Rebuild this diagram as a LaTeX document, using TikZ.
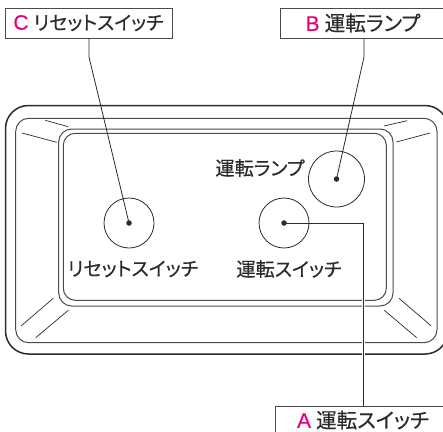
\documentclass[tikz,border=0pt]{standalone}
\usepackage{fontspec}
\setmainfont{Liberation Sans}
\newfontfamily\jpf[RawFeature={+palt},FakeBold=0.35]{Noto Sans CJK JP}
\newfontfamily\ltr[FakeBold=0.4]{Liberation Sans}
\definecolor{ink}{HTML}{2B2B2B}
\definecolor{mag}{HTML}{E6007E}
\newcommand{\keyl}[1]{{\ltr\fontsize{21}{21}\selectfont\color{mag}#1}}
\tikzset{
  x=1pt,y=-1pt,
  panelA/.style={draw=ink,line width=1.5pt,rounded corners=23pt},
  panelB/.style={draw=ink!85,line width=1pt,rounded corners=13pt},
  thin line/.style={draw=ink,line width=0.7pt},
  leader/.style={draw=ink,line width=0.8pt},
  halo/.style={draw=white,line width=3pt},
  dial/.style={circle,draw=ink,line width=0.8pt,minimum size=50pt,inner sep=0pt},
  pin/.style={circle,fill=ink,minimum size=5.5pt,inner sep=0pt},
  callout/.style={draw=ink!85,line width=1pt,fill=white,inner sep=0pt,text=ink,font=\jpf\fontsize{19.1}{19.1}\selectfont,anchor=center},
  calltext/.style={inner sep=0pt,text=ink,font=\jpf\fontsize{20.6}{20.6}\selectfont,anchor=center},
  frameline/.style={draw=ink!85,line width=1pt},
  caption/.style={inner sep=0pt,text=ink,font=\jpf\fontsize{19.2}{19.2}\selectfont,anchor=center}
}
\begin{document}
\begin{tikzpicture}
\useasboundingbox (0,0) rectangle (443,431);
\fill[white] (0,0) rectangle (443,431);
% panel
\draw[panelA] (5.5,105.5) rectangle (448,354);
\draw[panelB] (15.7,118.3) rectangle (437,342.7);
\draw[panelB] (58.7,129) rectangle (393,306);
\draw[panelB,rounded corners=12pt] (63.3,133.3) rectangle (386.3,300.3);
% corner lines
\draw[thin line] (45.3,120.3) -- (68.3,126.7);
\draw[thin line] (22,133) -- (56.7,142.3);
\draw[thin line] (384,126) -- (407,120.7);
\draw[thin line] (396.3,142) -- (430,133);
\draw[thin line] (53.3,298.3) -- (21,326);
\draw[thin line] (68.3,310.3) -- (35.7,337.7);
\draw[thin line] (399,298.3) -- (431,325.7);
\draw[thin line] (384.3,310.3) -- (416.7,337.7);
% dials
\node[dial] (dialC) at (129,223) {};
\node[dial] (dialA) at (284,223) {};
\node[dial,minimum size=56pt] (dialB) at (336.5,179) {};
\node[pin] (pinC) at (129,223) {};
\node[pin] (pinA) at (284,223) {};
\node[pin] (pinB) at (336.5,179) {};
% captions
\node[caption] (capB) at (260,168) {運転ランプ};
\node[caption] (capC) at (133,269) {リセットスイッチ};
\node[caption] (capA) at (289,269) {運転スイッチ};
% callouts
\node[callout,minimum width=167pt,minimum height=30pt] (boxC) at (88.5,23) {\keyl{C}\hspace{5pt}リセットスイッチ};
\node[callout,minimum width=166pt,minimum height=30pt,font=\jpf\fontsize{20.6}{20.6}\selectfont] (boxB) at (363,23) {\keyl{B}\hspace{5pt}運転ランプ};
\node[calltext] (boxA) at (363,420) {\keyl{A}\hspace{5pt}運転スイッチ};
\coordinate (frameBL) at (275,433);
\coordinate (frameTL) at (275,406);
\coordinate (frameTR) at (445,406);
\draw[frameline] (frameBL) -- (frameTL) -- (frameTR);
% leaders
\coordinate (kinkC) at (89,57);
\coordinate (kinkB) at (364,57);
\coordinate (kinkA) at (363.7,223);
\draw[leader] (boxC.south -| kinkC) -- (kinkC) -- (pinC.center);
\draw[leader] (boxB.south -| kinkB) -- (kinkB) -- (pinB.center);
\draw[halo] (kinkA |- dialA.south) -- (kinkA |- frameTL);
\draw[leader] (pinA.center) -- (kinkA) -- (kinkA |- frameTL);
\end{tikzpicture}
\end{document}
